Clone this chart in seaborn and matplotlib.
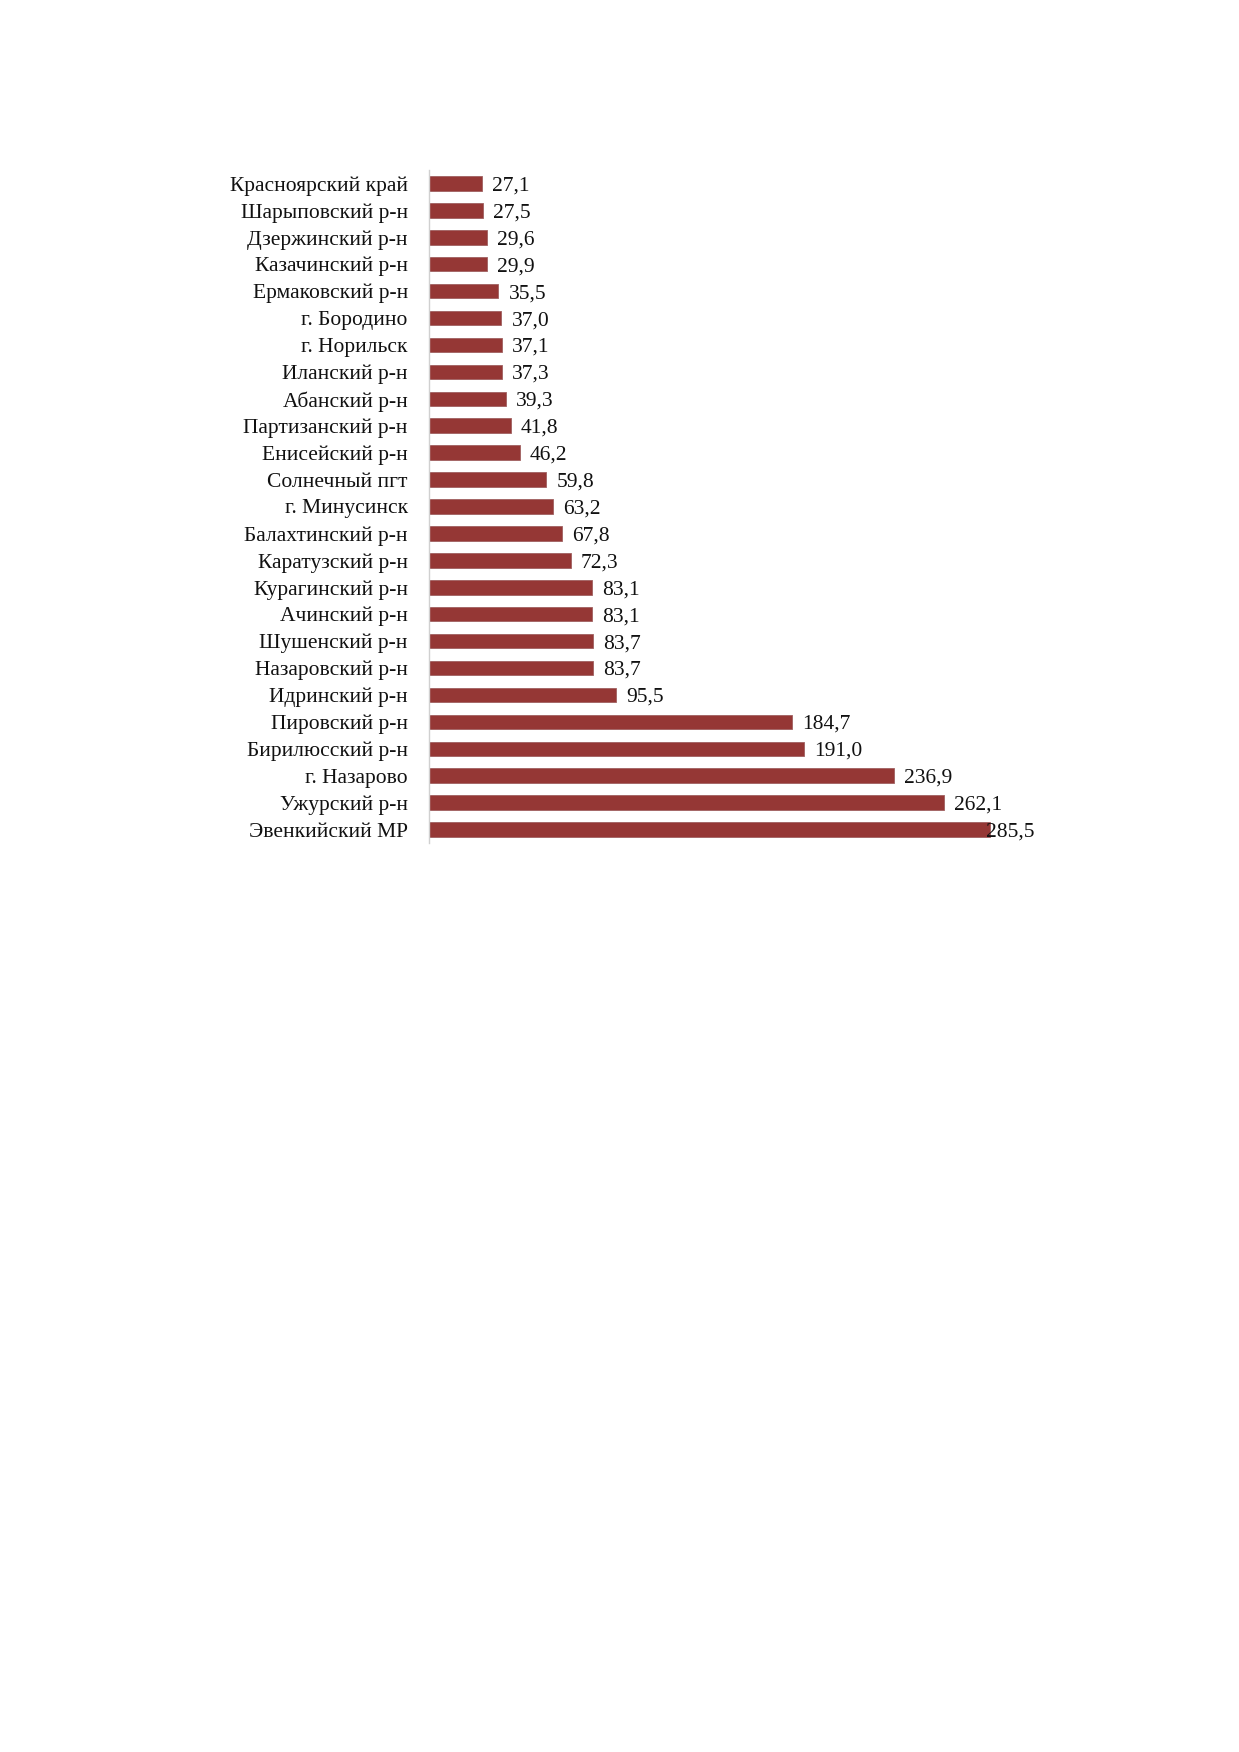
import matplotlib
matplotlib.use("Agg")
import matplotlib.pyplot as plt
import seaborn as sns
import pandas as pd

# --- data ---
regions = [
    "Красноярский край", "Шарыповский р-н", "Дзержинский р-н", "Казачинский р-н",
    "Ермаковский р-н", "г. Бородино", "г. Норильск", "Иланский р-н",
    "Абанский р-н", "Партизанский р-н", "Енисейский р-н", "Солнечный пгт",
    "г. Минусинск", "Балахтинский р-н", "Каратузский р-н", "Курагинский р-н",
    "Ачинский р-н", "Шушенский р-н", "Назаровский р-н", "Идринский р-н",
    "Пировский р-н", "Бирилюсский р-н", "г. Назарово", "Ужурский р-н",
    "Эвенкийский МР",
]
values = [
    27.1, 27.5, 29.6, 29.9, 35.5, 37.0, 37.1, 37.3, 39.3, 41.8, 46.2, 59.8,
    63.2, 67.8, 72.3, 83.1, 83.1, 83.7, 83.7, 95.5, 184.7, 191.0, 236.9,
    262.1, 285.5,
]

df = pd.DataFrame({"region": regions, "value": values})

sns.set_theme(style="white")
plt.rcParams["font.family"] = ["Liberation Serif", "DejaVu Serif"]

bar_color = "#953735"
fsize = 15.5
xmax = 308

fig = plt.figure(figsize=(12.39, 17.52), dpi=100)
ax = fig.add_axes([428.7 / 1239, 1 - 843 / 1752, (xmax * 1.966) / 1239, (843 - 170) / 1752])

sns.barplot(data=df, x="value", y="region", orient="h", color=bar_color,
            width=0.54, edgecolor="#a06060", linewidth=0.6, saturation=1, ax=ax)

ax.set_xlim(0, xmax)
ax.set_ylim(len(regions) - 0.5, -0.5)
ax.set_xlabel("")
ax.set_ylabel("")
ax.set_xticks([])
for s in ["top", "right", "bottom"]:
    ax.spines[s].set_visible(False)
ax.spines["left"].set_color("#d0d0d0")
ax.spines["left"].set_linewidth(1.0)
ax.tick_params(axis="y", length=0, pad=15, labelsize=fsize, labelcolor="#111111")
for lab in ax.get_yticklabels():
    lab.set_verticalalignment("center_baseline")

# value labels, comma as decimal separator
for i, v in enumerate(values):
    txt = f"{v:.1f}".replace(".", ",")
    if v > 280:
        # label would fall outside the chart area, pull it back in
        ax.text(xmax, i, txt, ha="right", va="center_baseline", fontsize=fsize, color="#111111")
    else:
        ax.annotate(txt, (v, i), xytext=(10, 0), textcoords="offset pixels",
                    ha="left", va="center_baseline", fontsize=fsize, color="#111111")

fig.savefig("out.png", dpi=100)
